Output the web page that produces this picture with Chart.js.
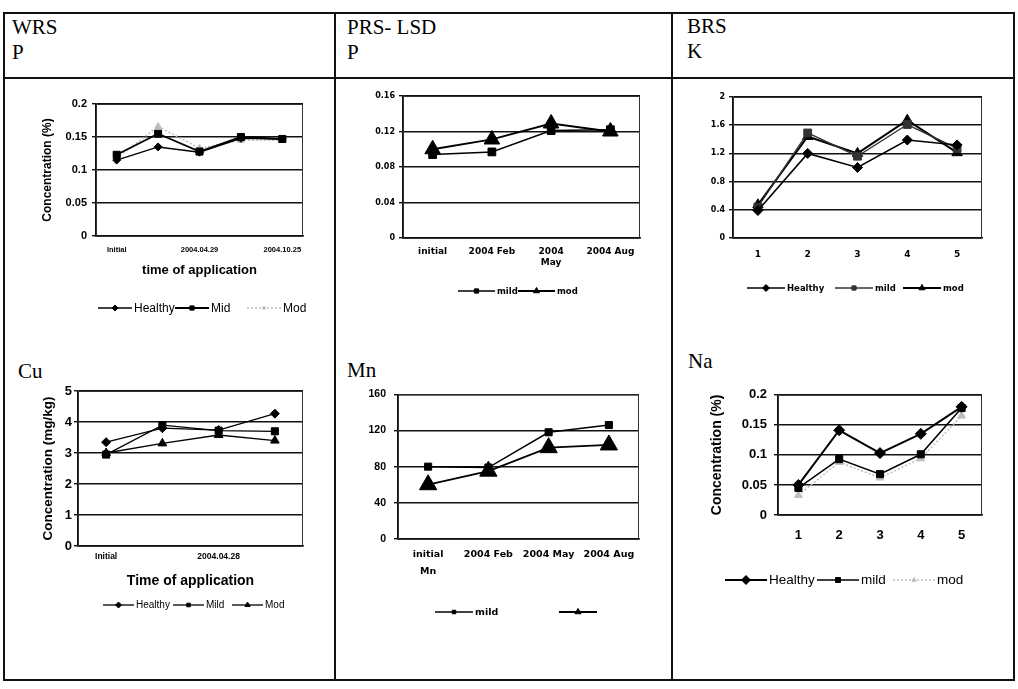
<!DOCTYPE html>
<html><head><meta charset="utf-8">
<script src="https://cdn.jsdelivr.net/npm/chart.js"></script>
<style>
html,body{margin:0;padding:0;background:#fff;}
body{width:1018px;height:689px;position:relative;overflow:hidden;}
.ln{position:absolute;background:#111;}
.lbl{position:absolute;font-family:'Liberation Serif','Times New Roman',serif;font-size:21px;color:#000;line-height:24px;white-space:nowrap;}
canvas{position:absolute;}
</style></head><body>
<div class="ln" style="left:3px;top:12px;width:1012px;height:2px"></div>
<div class="ln" style="left:3px;top:77px;width:1012px;height:2px"></div>
<div class="ln" style="left:3px;top:679px;width:1012px;height:2px"></div>
<div class="ln" style="left:3px;top:12px;width:2px;height:669px"></div>
<div class="ln" style="left:1013px;top:12px;width:2px;height:669px"></div>
<div class="ln" style="left:334px;top:12px;width:2px;height:669px"></div>
<div class="ln" style="left:671px;top:12px;width:2px;height:669px"></div>
<div class="lbl" style="left:12px;top:15px">WRS</div>
<div class="lbl" style="left:12px;top:40px">P</div>
<div class="lbl" style="left:347px;top:15px">PRS- LSD</div>
<div class="lbl" style="left:347px;top:40px">P</div>
<div class="lbl" style="left:687px;top:14px">BRS</div>
<div class="lbl" style="left:687px;top:39px">K</div>
<div class="lbl" style="left:18px;top:359px">Cu</div>
<div class="lbl" style="left:347px;top:358px">Mn</div>
<div class="lbl" style="left:688px;top:349px">Na</div>
<script>
// ---------- data ----------
const wrsPCategories = ['Initial', '', '2004.04.29', '', '2004.10.25'];
const wrsPHealthy = [0.115, 0.135, 0.127, 0.148, 0.147];
const wrsPMid = [0.123, 0.155, 0.128, 0.150, 0.147];
const wrsPMod = [0.118, 0.166, 0.133, 0.145, 0.145];
const wrsPTicks = [0, 0.05, 0.1, 0.15, 0.2];

const prsPCategories = ['initial', '2004 Feb', ['2004', 'May'], '2004 Aug'];
const prsPMild = [0.094, 0.097, 0.121, 0.122];
const prsPMod = [0.100, 0.111, 0.129, 0.120];
const prsPTicks = [0, 0.04, 0.08, 0.12, 0.16];

const brsKCategories = ['1', '2', '3', '4', '5'];
const brsKHealthy = [0.39, 1.20, 1.00, 1.39, 1.32];
const brsKMild = [0.44, 1.49, 1.16, 1.61, 1.27];
const brsKMod = [0.47, 1.44, 1.20, 1.67, 1.21];
const brsKTicks = [0, 0.4, 0.8, 1.2, 1.6, 2];

const wrsCuCategories = ['Initial', '', '2004.04.28', ''];
const wrsCuHealthy = [3.35, 3.80, 3.74, 4.27];
const wrsCuMild = [2.95, 3.90, 3.72, 3.70];
const wrsCuMod = [3.00, 3.31, 3.58, 3.40];
const wrsCuTicks = [0, 1, 2, 3, 4, 5];

const prsMnCategories = [['initial', 'Mn'], '2004 Feb', '2004 May', '2004 Aug'];
const prsMnMild = [80, 79, 118, 126];
const prsMnMod = [60, 75, 101, 104];
const prsMnTicks = [0, 40, 80, 120, 160];

const brsNaCategories = ['1', '2', '3', '4', '5'];
const brsNaHealthy = [0.050, 0.141, 0.103, 0.135, 0.180];
const brsNaMild = [0.045, 0.093, 0.068, 0.101, 0.178];
const brsNaMod = [0.033, 0.088, 0.062, 0.094, 0.165];
const brsNaTicks = [0, 0.05, 0.1, 0.15, 0.2];

// ---------- helpers ----------
function drawMarker(ctx, style, x, y, r, color) {
  ctx.save();
  ctx.fillStyle = color; ctx.strokeStyle = color; ctx.lineWidth = 1; ctx.setLineDash([]);
  ctx.beginPath();
  if (style === 'rect') {
    const s = r * Math.SQRT1_2;
    ctx.rect(x - s, y - s, 2 * s, 2 * s);
  } else if (style === 'rectRot') {
    ctx.moveTo(x, y - r); ctx.lineTo(x + r, y); ctx.lineTo(x, y + r); ctx.lineTo(x - r, y); ctx.closePath();
  } else if (style === 'triangle') {
    for (let k = 0; k < 3; k++) {
      const a = -Math.PI / 2 + k * 2 * Math.PI / 3;
      const px = x + Math.cos(a) * r, py = y + Math.sin(a) * r;
      if (k === 0) ctx.moveTo(px, py); else ctx.lineTo(px, py);
    }
    ctx.closePath();
  } else {
    ctx.arc(x, y, r, 0, Math.PI * 2);
  }
  ctx.fill(); ctx.stroke();
  ctx.restore();
}

const framePlugin = {
  id: 'frame',
  beforeDatasetsDraw(chart) {
    const a = chart.chartArea, ctx = chart.ctx;
    ctx.save();
    ctx.strokeStyle = '#333'; ctx.lineWidth = 1;
    ctx.strokeRect(a.left + 0.5, a.top + 0.5, a.right - a.left - 1, a.bottom - a.top);
    ctx.restore();
  }
};

const legendPlugin = {
  id: 'excelLegend',
  afterDraw(chart, args, o) {
    const ctx = chart.ctx;
    ctx.save();
    ctx.font = o.font; ctx.textBaseline = 'middle'; ctx.fillStyle = '#000';
    chart.data.datasets.forEach((d, i) => {
      const x = o.starts[i], y = o.y;
      ctx.strokeStyle = d.borderColor; ctx.lineWidth = d.borderWidth;
      ctx.setLineDash(d.borderDash || []);
      ctx.beginPath(); ctx.moveTo(x, y); ctx.lineTo(x + o.line, y); ctx.stroke();
      ctx.setLineDash([]);
      drawMarker(ctx, d.pointStyle, x + o.line / 2, y, d.legendRadius || 3, d.pointBackgroundColor);
      ctx.fillText(d.label, x + o.line + o.textGap, y + 0.5);
    });
    ctx.restore();
  }
};

function fmtTick(v) { return String(parseFloat(Number(v).toFixed(6))); }

function makeChart(spec) {
  const [cx, cy, cw, ch] = spec.rect;
  const [L, T, R, B] = spec.plot;
  const cv = document.createElement('canvas');
  cv.width = cw; cv.height = ch;
  cv.style.left = cx + 'px'; cv.style.top = cy + 'px';
  cv.style.width = cw + 'px'; cv.style.height = ch + 'px';
  document.body.appendChild(cv);
  const yTicks = spec.ticks;
  const xTitle = spec.xTitle ? {
    display: true, text: spec.xTitle.text, color: '#000',
    font: { family: 'Liberation Sans', size: spec.xTitle.size, weight: 'bold', lineHeight: 1.2 },
    padding: { top: 0, bottom: (cy + ch) - spec.xTitle.y - spec.xTitle.size * 0.6 }
  } : { display: false };
  const yTitle = spec.yTitle ? {
    display: true, text: spec.yTitle.text, color: '#000',
    font: { family: 'Liberation Sans', size: spec.yTitle.size, weight: 'bold', lineHeight: 1.2 },
    padding: { top: (spec.yTitle.x - cx) - spec.yTitle.size * 0.6, bottom: 0 }
  } : { display: false };
  new Chart(cv, {
    type: 'line',
    data: {
      labels: spec.labels,
      datasets: spec.series.map(s => ({
        label: s.label, data: s.data,
        borderColor: s.color, backgroundColor: s.color,
        borderWidth: s.width, borderDash: s.dash || [],
        pointStyle: s.style, pointRadius: s.radius,
        pointBackgroundColor: s.fill || s.color, pointBorderColor: s.color, pointBorderWidth: 1,
        tension: 0, fill: false, clip: false, legendRadius: s.legendRadius
      }))
    },
    options: {
      responsive: false, animation: false, devicePixelRatio: 1,
      layout: { padding: { left: 0, top: T - cy, right: (cx + cw) - R, bottom: 0 } },
      plugins: {
        legend: { display: false }, tooltip: { enabled: false },
        excelLegend: {
          font: spec.legend.font, y: spec.legend.y - cy, line: spec.legend.line, textGap: spec.legend.textGap || 2,
          starts: spec.legend.starts.map(v => v - cx)
        }
      },
      scales: {
        x: {
          type: 'category', offset: true,
          grid: { display: false, drawTicks: false },
          border: { display: true, color: '#111', width: 1.5 },
          ticks: { color: '#000', font: spec.xFont, padding: spec.xPad, maxRotation: 0, minRotation: 0, autoSkip: false },
          title: xTitle,
          afterFit(s) { s.height = (cy + ch) - B; }
        },
        y: {
          type: 'linear', min: yTicks[0], max: yTicks[yTicks.length - 1],
          grid: { color: '#111', lineWidth: 1.4, drawTicks: true, tickLength: 4 },
          border: { display: true, color: '#111', width: 1.5 },
          ticks: { color: '#000', font: spec.yFont, padding: spec.yPad, callback: fmtTick },
          title: yTitle,
          afterBuildTicks(s) { s.ticks = yTicks.map(v => ({ value: v })); },
          afterFit(s) { s.width = L - cx; }
        }
      }
    },
    plugins: [framePlugin, legendPlugin]
  });
}

const blk = '#000';
const gry = '#bdbdbd';

// WRS P
makeChart({
  rect: [6, 80, 327, 250], plot: [96, 104, 303, 236],
  labels: wrsPCategories, ticks: wrsPTicks,
  yFont: { family: 'Liberation Sans', size: 11, weight: 'bold' }, yPad: 5,
  xFont: { family: 'Liberation Sans', size: 7.5, weight: 'bold' }, xPad: 9.5,
  yTitle: { text: 'Concentration (%)', size: 12, x: 48 },
  xTitle: { text: 'time of application', size: 13, y: 270 },
  series: [
    { label: 'Healthy', data: wrsPHealthy, color: blk, width: 1.5, style: 'rectRot', radius: 4 },
    { label: 'Mid', data: wrsPMid, color: blk, width: 1.8, style: 'rect', radius: 5 },
    { label: 'Mod', data: wrsPMod, color: gry, width: 1.5, dash: [2, 2], style: 'triangle', radius: 4, legendRadius: 2 }
  ],
  legend: { font: '12px "Liberation Sans"', y: 308, line: 34, textGap: 2, starts: [98, 175, 247] }
});

// PRS-LSD P
makeChart({
  rect: [337, 80, 333, 250], plot: [403, 96, 640, 238],
  labels: prsPCategories, ticks: prsPTicks,
  yFont: { family: 'DejaVu Sans', size: 8, weight: 'bold' }, yPad: 4,
  xFont: { family: 'DejaVu Sans', size: 9, weight: 'bold', lineHeight: 1.2 }, xPad: 8.6,
  series: [
    { label: 'mild', data: prsPMild, color: blk, width: 1.5, style: 'rect', radius: 5.5, legendRadius: 3 },
    { label: 'mod', data: prsPMod, color: blk, width: 1.8, style: 'triangle', radius: 9, legendRadius: 3.5 }
  ],
  legend: { font: 'bold 8.5px "DejaVu Sans"', y: 291, line: 37, textGap: 2, starts: [458, 518] }
});

// BRS K
makeChart({
  rect: [674, 80, 339, 250], plot: [733, 97, 982, 238],
  labels: brsKCategories, ticks: brsKTicks,
  yFont: { family: 'DejaVu Sans', size: 8, weight: 'bold' }, yPad: 4,
  xFont: { family: 'DejaVu Sans', size: 9, weight: 'bold' }, xPad: 11.6,
  series: [
    { label: 'Healthy', data: brsKHealthy, color: blk, width: 1.6, style: 'rectRot', radius: 5, legendRadius: 3.5 },
    { label: 'mild', data: brsKMild, color: '#333', width: 1.4, style: 'rect', radius: 5.5, legendRadius: 3 },
    { label: 'mod', data: brsKMod, color: blk, width: 2, style: 'triangle', radius: 6, legendRadius: 3.5 }
  ],
  legend: { font: 'bold 8.5px "DejaVu Sans"', y: 288, line: 38, textGap: 2, starts: [747, 835, 903] }
});

// WRS Cu
makeChart({
  rect: [6, 380, 327, 260], plot: [78, 391, 303, 546],
  labels: wrsCuCategories, ticks: wrsCuTicks,
  yFont: { family: 'Liberation Sans', size: 13, weight: 'bold' }, yPad: 2,
  xFont: { family: 'Liberation Sans', size: 8.5, weight: 'bold' }, xPad: 5.9,
  yTitle: { text: 'Concentration (mg/kg)', size: 13.5, x: 48 },
  xTitle: { text: 'Time of application', size: 14, y: 580.7 },
  series: [
    { label: 'Healthy', data: wrsCuHealthy, color: blk, width: 1.3, style: 'rectRot', radius: 4.5, legendRadius: 3 },
    { label: 'Mild', data: wrsCuMild, color: blk, width: 1.3, style: 'rect', radius: 5, legendRadius: 2.5 },
    { label: 'Mod', data: wrsCuMod, color: blk, width: 1.3, style: 'triangle', radius: 5, legendRadius: 3 }
  ],
  legend: { font: '10px "Liberation Sans"', y: 605, line: 31, textGap: 2, starts: [103, 173, 232] }
});

// PRS-LSD Mn
makeChart({
  rect: [337, 380, 333, 280], plot: [398, 389, 639, 539],
  labels: prsMnCategories, ticks: prsMnTicks,
  yFont: { family: 'Liberation Sans', size: 10.5, weight: 'bold' }, yPad: 8,
  xFont: { family: 'DejaVu Sans', size: 9.5, weight: 'bold', lineHeight: 1.7 }, xPad: 7.9,
  series: [
    { label: 'mild', data: prsMnMild, color: blk, width: 1.5, style: 'rect', radius: 5, legendRadius: 2.5 },
    { label: '', data: prsMnMod, color: blk, width: 1.8, style: 'triangle', radius: 10, legendRadius: 3.5 }
  ],
  legend: { font: 'bold 9.5px "DejaVu Sans"', y: 612, line: 38, textGap: 2, starts: [435, 559] }
});

// BRS Na
makeChart({
  rect: [674, 380, 339, 260], plot: [778, 389, 982, 515],
  labels: brsNaCategories, ticks: brsNaTicks,
  yFont: { family: 'Liberation Sans', size: 13, weight: 'bold' }, yPad: 7,
  xFont: { family: 'Liberation Sans', size: 13, weight: 'bold' }, xPad: 12.2,
  yTitle: { text: 'Concentration (%)', size: 14, x: 717 },
  series: [
    { label: 'Healthy', data: brsNaHealthy, color: blk, width: 2, style: 'rectRot', radius: 5.5, legendRadius: 4.5 },
    { label: 'mild', data: brsNaMild, color: blk, width: 1.5, style: 'rect', radius: 5, legendRadius: 3.5 },
    { label: 'mod', data: brsNaMod, color: gry, width: 1.5, dash: [2, 2], style: 'triangle', radius: 4.5, legendRadius: 2.5 }
  ],
  legend: { font: '13.5px "Liberation Sans"', y: 580, line: 42, textGap: 2, starts: [725, 817, 893] }
});
</script>
</body></html>
